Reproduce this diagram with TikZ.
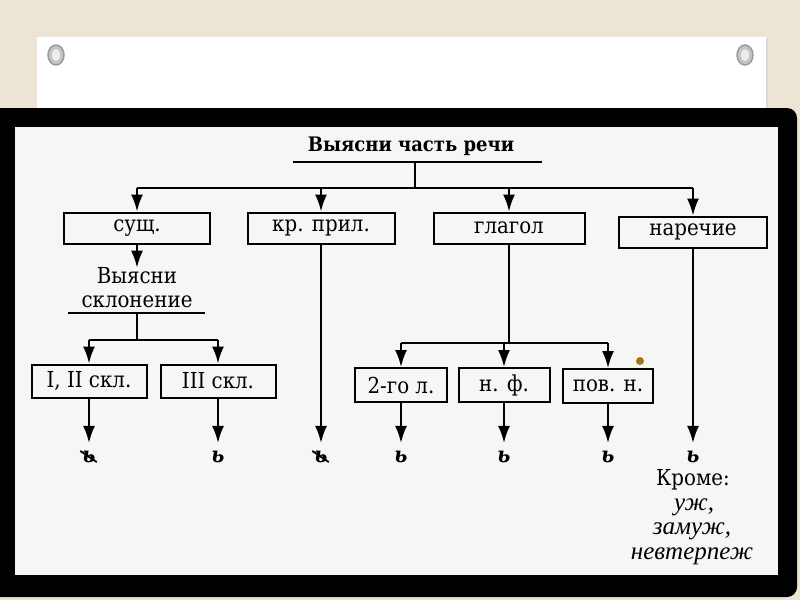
\documentclass[tikz,border=0pt]{standalone}
\usepackage{fontspec}
\setmainfont{DejaVu Serif Condensed}
\newfontfamily\italfont{Liberation Serif}
\usetikzlibrary{arrows.meta}

\definecolor{canvas}{HTML}{ECE5D3}
\definecolor{paper}{HTML}{F6F6F4}
\definecolor{ring}{HTML}{9C9C9C}
\definecolor{bee}{HTML}{A8741E}

\begin{document}
\begin{tikzpicture}[x=1pt,y=-1pt,
  box/.style={draw, line width=2pt, inner sep=0pt, font=\fontsize{22}{24}\selectfont},
  link/.style={line width=2pt},
  arr/.style={link, -{Latex[length=17pt,width=12pt]}},
  arrs/.style={arr, shorten >=7pt},
  soft/.style={inner sep=1pt, font=\bfseries\itshape\fontsize{22}{22}\selectfont},
  note/.style={inner sep=0pt, font=\fontsize{22}{24}\selectfont},
  ital/.style={inner sep=0pt, font=\italfont\itshape\fontsize{25}{26}\selectfont}]
  \useasboundingbox (0,0) rectangle (800,600);

  %% slide
  \fill[canvas] (0,0) rectangle (800,600);
  \fill[gray!30] (39,39) rectangle (768,117);
  \fill[white] (37,37) rectangle (766,115);
  \filldraw[fill=ring!60, draw=ring, line width=1.5pt] (56,55) ellipse [x radius=8pt, y radius=10pt];
  \fill[gray!15] (56,55) ellipse [x radius=4pt, y radius=6pt];
  \filldraw[fill=ring!60, draw=ring, line width=1.5pt] (745,55) ellipse [x radius=8pt, y radius=10pt];
  \fill[gray!15] (745,55) ellipse [x radius=4pt, y radius=6pt];
  \fill[black, rounded corners=10pt] (-12,108) rectangle (797,597);
  \fill[paper] (15,127) rectangle (778,575);

  %% title
  \node[font=\bfseries\fontsize{20}{20}\selectfont] (title) at (411,146) {Выясни часть речи};
  \coordinate (tl) at (293,162);
  \coordinate (tr) at (542,162);
  \coordinate (tm) at (415,162);
  \coordinate (bus) at (415,188);

  %% parts of speech
  \node[box, minimum width=146pt, minimum height=31pt] (noun) at (137,228) {сущ.};
  \node[box, minimum width=147pt, minimum height=31pt] (adj) at (321,228) {кр. прил.};
  \node[box, minimum width=151pt, minimum height=31pt] (verb) at (509,228) {глагол};
  \node[box, minimum width=148pt, minimum height=31pt] (adv) at (693,232) {наречие};

  \draw[link] (tl) -- (tr);
  \draw[link] (tm) -- (bus);
  \draw[link] (noun.north |- bus) -- (adv.north |- bus);
  \foreach \n in {noun,adj,verb,adv}
    \draw[arr] (\n.north |- bus) -- (\n.north);

  %% noun
  \node[note, align=center] (decl) at (137,288) {Выясни\\склонение};
  \draw[arr] (noun.south) -- (decl.north);
  \coordinate (dl) at (68,313);
  \coordinate (dr) at (205,313);
  \coordinate (dm) at (137,313);
  \coordinate (dbus) at (137,340);
  \draw[link] (dl) -- (dr);
  \draw[link] (dm) -- (dbus);

  \node[box, minimum width=115pt, minimum height=33pt] (dec12) at (89,381) {I, II скл.};
  \node[box, minimum width=115pt, minimum height=33pt] (dec3) at (218,381) {III скл.};
  \draw[link] (dec12.north |- dbus) -- (dec3.north |- dbus);
  \foreach \n in {dec12,dec3}
    \draw[arr] (\n.north |- dbus) -- (\n.north);

  %% verb
  \coordinate (vbus) at (509,343);
  \node[box, minimum width=92pt, minimum height=34pt] (pers) at (401,385) {2-го л.};
  \node[box, minimum width=91pt, minimum height=34pt] (inf) at (504,385) {н. ф.};
  \node[box, minimum width=90pt, minimum height=34pt] (imp) at (608,386) {пов. н.};
  \draw[link] (verb.south) -- (vbus);
  \draw[link] (pers.north |- vbus) -- (imp.north |- vbus);
  \foreach \n in {pers,inf,imp}
    \draw[arr] (\n.north |- vbus) -- (\n.north);
  \fill[bee] (640,361) circle[radius=4pt];

  %% soft signs
  \node[soft] (s1) at (89,457) {ь};
  \node[soft] (s2) at (218,457) {ь};
  \node[soft] (s3) at (321,457) {ь};
  \node[soft] (s4) at (401,457) {ь};
  \node[soft] (s5) at (504,457) {ь};
  \node[soft] (s6) at (608,457) {ь};
  \node[soft] (s7) at (693,457) {ь};
  \draw[line width=1.8pt] ([xshift=-1pt,yshift=-1pt]s1.north west) -- ([xshift=0pt,yshift=2pt]s1.south east);
  \draw[line width=1.8pt] ([xshift=-1pt,yshift=-1pt]s3.north west) -- ([xshift=0pt,yshift=2pt]s3.south east);

  \draw[arrs] (dec12.south) -- (s1.north);
  \draw[arrs] (dec3.south) -- (s2.north);
  \draw[arrs] (adj.south) -- (s3.north);
  \draw[arrs] (pers.south) -- (s4.north);
  \draw[arrs] (inf.south) -- (s5.north);
  \draw[arrs] (imp.south) -- (s6.north);
  \draw[arrs] (adv.south) -- (s7.north);

  %% exceptions
  \node[note] (exc) at (693,480) {Кроме:};
  \node[ital] (ex1) at (694,507) {уж,};
  \node[ital] (ex2) at (692,531) {замуж,};
  \node[ital] (ex3) at (692,556) {невтерпеж};

\end{tikzpicture}
\end{document}
